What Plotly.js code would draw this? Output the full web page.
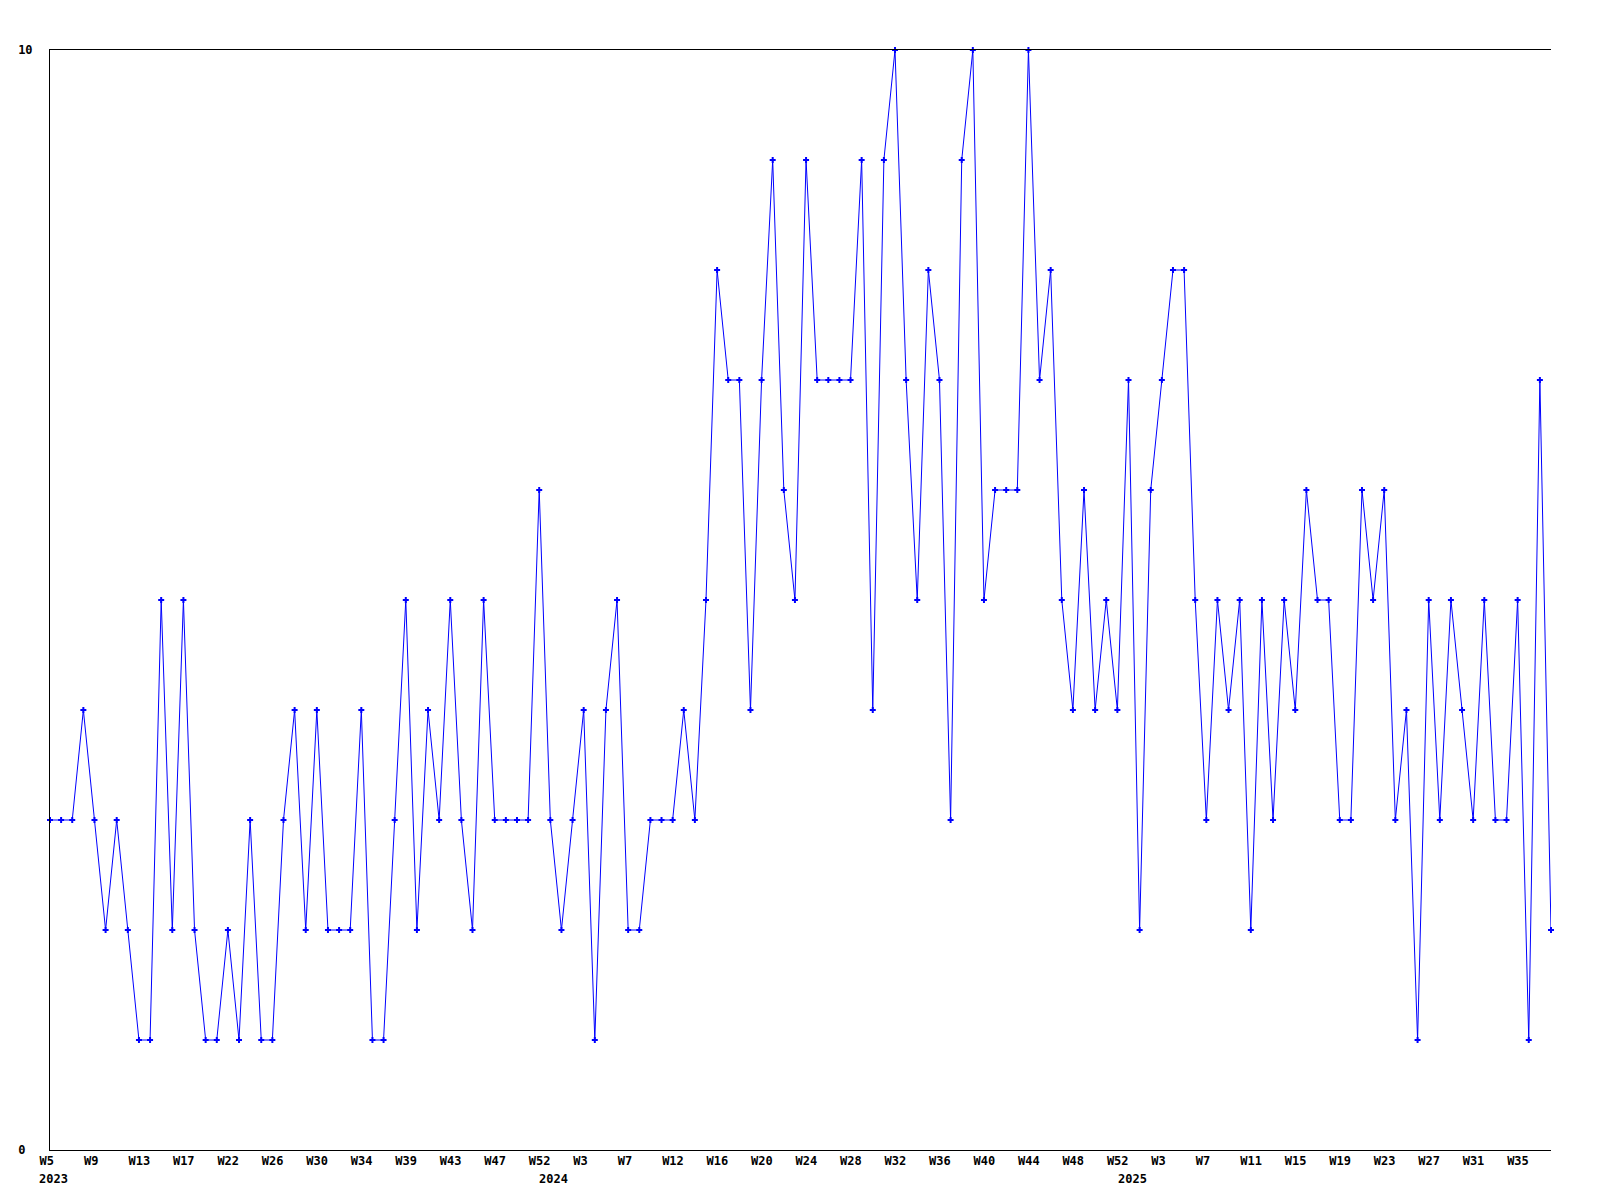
<!DOCTYPE html>
<html><head><meta charset="utf-8">
<script src="https://cdn.plot.ly/plotly-3.0.1.min.js"></script>
<style>html,body{margin:0;padding:0;background:#fff}#chart{width:1600px;height:1200px}</style>
</head><body><div id="chart"></div>
<script>
// weekly values, 2023-W08 .. 2025-W39 (136 weeks)
const values = [
  3,3,3,4,3,2,3,2,1,1,
  5,2,5,2,1,1,2,1,3,1,
  1,3,4,2,4,2,2,2,4,1,
  1,3,5,2,4,3,5,3,2,5,
  3,3,3,3,6,3,2,3,4,1,
  4,5,2,2,3,3,3,4,3,5,
  8,7,7,4,7,9,6,5,9,7,
  7,7,7,9,4,9,10,7,5,8,
  7,3,9,10,5,6,6,6,10,7,
  8,5,4,6,4,5,4,7,2,6,
  7,8,8,5,3,5,4,5,2,5,
  3,5,4,6,5,5,3,3,6,5,
  6,3,4,1,5,3,5,4,3,5,
  3,3,5,1,7,2
];
const tickLabels = ["W5","W9","W13","W17","W22","W26","W30","W34","W39","W43","W47","W52",
  "W3","W7","W12","W16","W20","W24","W28","W32","W36","W40","W44","W48","W52",
  "W3","W7","W11","W15","W19","W23","W27","W31","W35"];
const yearLabels = ["2023","2024","2025"];
const yearStartIndex = [0,45,97];
const yTickValues = [0,10];
const yTickLabels = ["0","10"];

const x = values.map((_, i) => i);
const font = {family: "DejaVu Sans Mono", size: 12, color: "#000", weight: "bold"};
const maxLen = Math.max(...yTickLabels.map(s => s.length));
const yText = yTickLabels.map(s => s + "\u00a0".repeat(maxLen - s.length));

const trace = {
  x: x, y: values, type: "scatter", mode: "lines+markers",
  line: {color: "#0000ff", width: 1},
  marker: {symbol: "cross", size: 5, color: "#0000ff"},
  cliponaxis: false, hoverinfo: "skip"
};

const annotations = yearLabels.map((t, i) => ({
  text: t, x: yearStartIndex[i], y: 0, xref: "x", yref: "paper",
  xanchor: "left", yanchor: "middle", xshift: -13, yshift: -29,
  showarrow: false, font: font
}));

const layout = {
  width: 1600, height: 1200,
  margin: {l: 50, r: 49, t: 50, b: 50, pad: 0},
  paper_bgcolor: "#fff", plot_bgcolor: "#fff",
  showlegend: false,
  xaxis: {
    range: [0, values.length - 1], showline: true, mirror: true,
    linecolor: "#000", linewidth: 1, showgrid: false, zeroline: false,
    ticks: "", tickmode: "array",
    tickvals: tickLabels.map((_, k) => 4 * k), ticktext: tickLabels,
    ticklabelposition: "outside right", ticklabelshift: -11,
    tickfont: font, fixedrange: true
  },
  yaxis: {
    range: [0, 10], showline: true, mirror: false,
    linecolor: "#000", linewidth: 1, showgrid: false, zeroline: false,
    ticks: "", tickmode: "array", tickvals: yTickValues, ticktext: yText,
    ticklabelstandoff: 14, tickfont: font, fixedrange: true
  },
  annotations: annotations
};

Plotly.newPlot("chart", [trace], layout, {staticPlot: true});
</script>
</body></html>
